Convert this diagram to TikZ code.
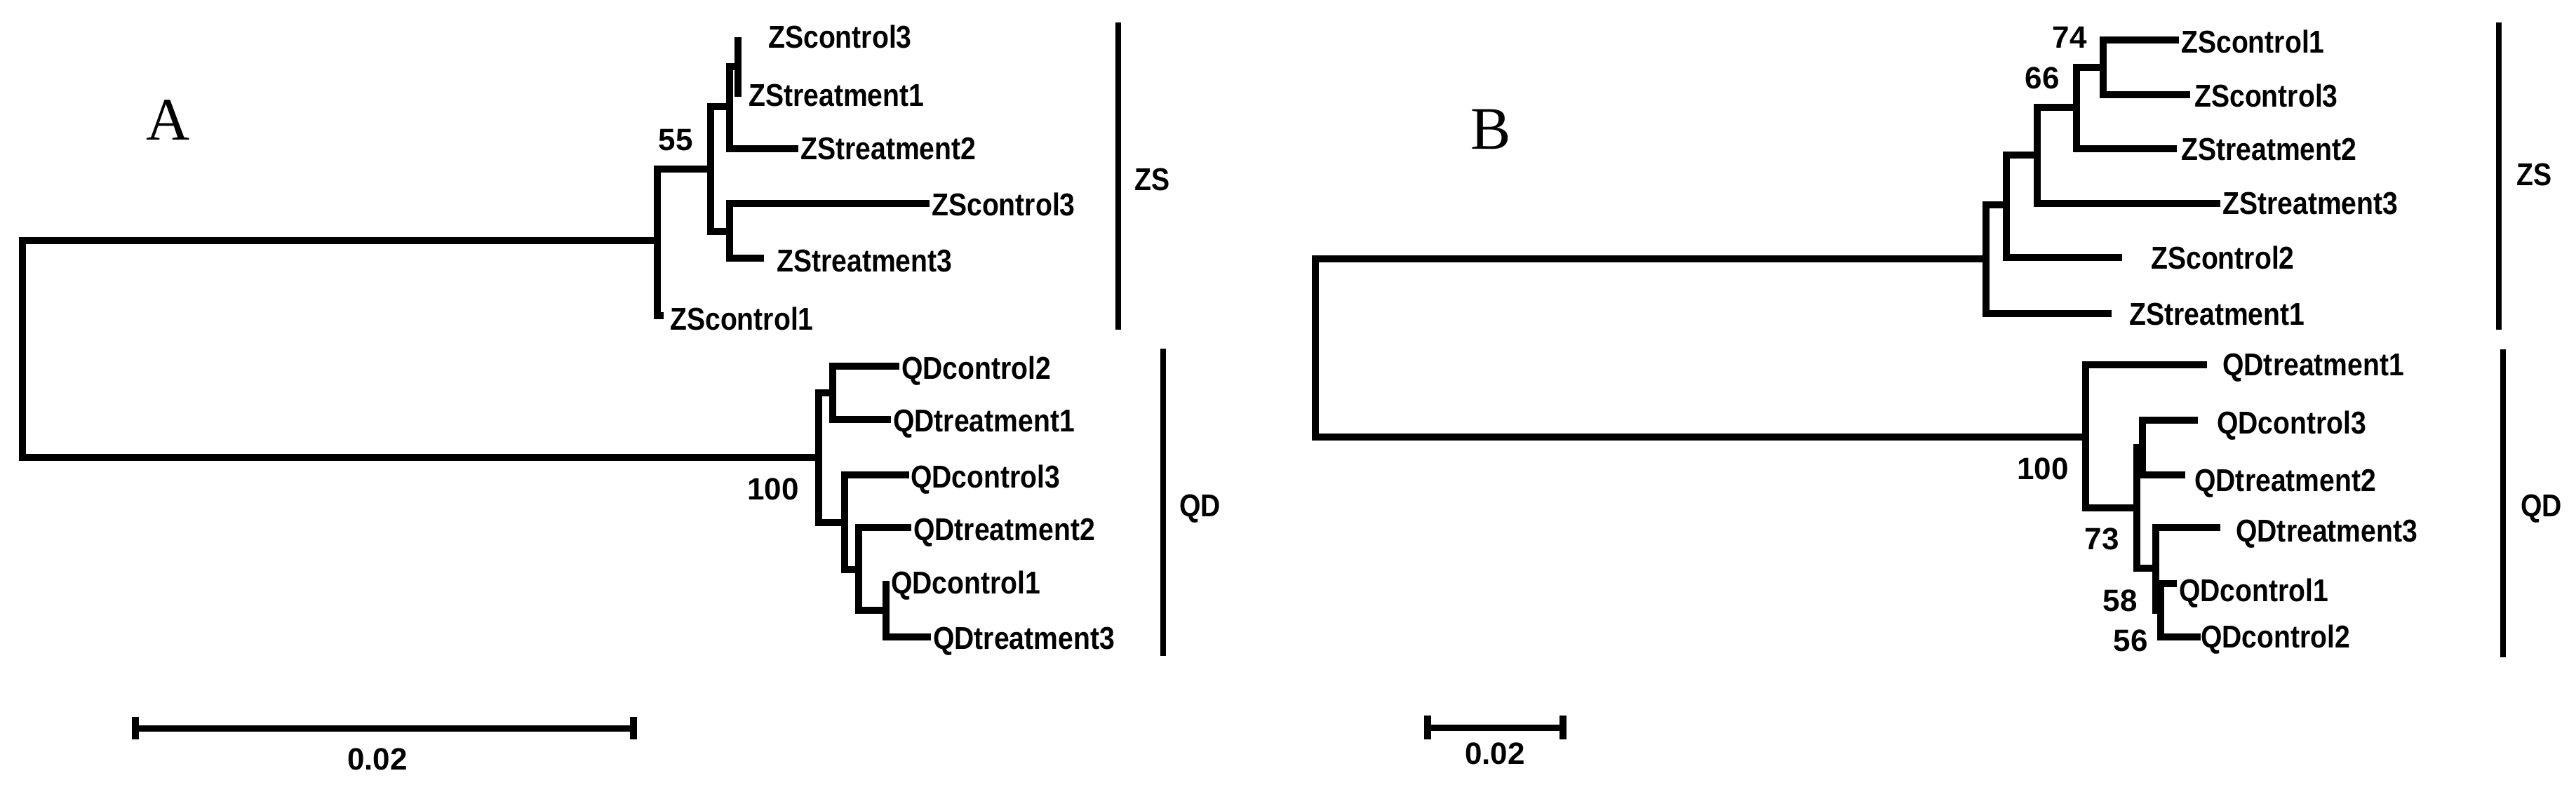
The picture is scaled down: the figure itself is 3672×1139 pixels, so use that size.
\documentclass[tikz,border=0pt]{standalone}
\usepackage{fontspec}
\setmainfont{Liberation Sans}
\newfontfamily\labfont{Liberation Sans}[FakeStretch=0.87]
\newfontfamily\panelfont{Liberation Serif}
\begin{document}
\begin{tikzpicture}[x=1pt,y=-1pt,
  br/.style={line width=10pt, line join=miter},
  grp/.style={line width=8pt},
  scl/.style={line width=9pt},
  tk/.style={line width=10pt},
  lab/.style={anchor=west, inner sep=0pt, font=\labfont\bfseries\fontsize{45}{45}\selectfont, text height=31pt, text depth=0pt},
  bs/.style={anchor=center, inner sep=0pt, font=\bfseries\fontsize{44}{44}\selectfont, text height=31pt, text depth=0pt},
  pan/.style={anchor=center, inner sep=0pt, font=\panelfont\fontsize{86}{86}\selectfont}]
\useasboundingbox (0,0) rectangle (3672,1139);
\fill[white] (0,0) rectangle (3672,1139);

% ================= Tree A =================
\node[pan] (panA) at (240,171) {A};
\coordinate (rA) at (32,497);
\coordinate (a55) at (937,343);
\coordinate (aNb) at (1013,241);
\coordinate (aNc) at (1040,152);
\coordinate (aNd) at (1052,95);
\coordinate (aNe) at (1040,330);
\coordinate (aQ) at (1167,652);
\coordinate (aNr) at (1187,560);
\coordinate (aNs) at (1204,745);
\coordinate (aNt) at (1224,812);
\coordinate (aNu) at (1263,870);
% tips
\coordinate (tAzc3a) at (1052,53);
\coordinate (tAzt1) at (1052,138);
\coordinate (tAzt2) at (1138,212);
\coordinate (tAzc3b) at (1325,290);
\coordinate (tAzt3) at (1089,368);
\coordinate (tAzc1) at (946,450);
\coordinate (tAqc2) at (1282,522);
\coordinate (tAqt1) at (1270,598);
\coordinate (tAqc3) at (1296,677);
\coordinate (tAqt2) at (1299,752);
\coordinate (tAqc1) at (1263,828);
\coordinate (tAqt3) at (1327,908);

\draw[br] (rA) |- (a55);
\draw[br] (rA) |- (aQ);
\draw[br] (a55) |- (aNb);
\draw[br] (a55) |- (tAzc1);
\draw[br] (aNb) |- (aNc);
\draw[br] (aNb) |- (aNe);
\draw[br] (aNc) |- (aNd);
\draw[br] (aNc) |- (tAzt2);
\draw[br] (aNd) |- (tAzc3a);
\draw[br] (aNd) |- (tAzt1);
\draw[br] (aNe) |- (tAzc3b);
\draw[br] (aNe) |- (tAzt3);
\draw[br] (aQ) |- (aNr);
\draw[br] (aQ) |- (aNs);
\draw[br] (aNr) |- (tAqc2);
\draw[br] (aNr) |- (tAqt1);
\draw[br] (aNs) |- (tAqc3);
\draw[br] (aNs) |- (aNt);
\draw[br] (aNt) |- (tAqt2);
\draw[br] (aNt) |- (aNu);
\draw[br] (aNu) |- (tAqc1);
\draw[br] (aNu) |- (tAqt3);

\node[lab] (lAzc3a) at (1095,53) {ZScontrol3};
\node[lab] (lAzt1) at (1067,136) {ZStreatment1};
\node[lab] (lAzt2) at (1141,212) {ZStreatment2};
\node[lab] (lAzc3b) at (1328,292) {ZScontrol3};
\node[lab] (lAzt3) at (1107,372) {ZStreatment3};
\node[lab] (lAzc1) at (955,455) {ZScontrol1};
\node[lab] (lAqc2) at (1285,525) {QDcontrol2};
\node[lab] (lAqt1) at (1273,600) {QDtreatment1};
\node[lab] (lAqc3) at (1298,680) {QDcontrol3};
\node[lab] (lAqt2) at (1302,755) {QDtreatment2};
\node[lab] (lAqc1) at (1270,831) {QDcontrol1};
\node[lab] (lAqt3) at (1330,910) {QDtreatment3};

\node[bs] (bA55) at (963,199) {55};
\node[bs] (bA100) at (1102,697) {100};

\coordinate (gAzs1) at (1594,32);
\coordinate (gAzs2) at (1594,470);
\draw[grp] (gAzs1) -- (gAzs2);
\node[lab] (lAzs) at (1617,256) {ZS};
\coordinate (gAqd1) at (1658,497);
\coordinate (gAqd2) at (1658,935);
\draw[grp] (gAqd1) -- (gAqd2);
\node[lab] (lAqd) at (1681,721) {QD};

\coordinate (sA1) at (193,1038);
\coordinate (sA2) at (903,1038);
\draw[scl] (sA1) -- (sA2);
\draw[tk] (sA1) ++(0,-16) -- ++(0,32);
\draw[tk] (sA2) ++(0,-16) -- ++(0,32);
\node[bs] (lsA) at (538,1082) {0.02};

% ================= Tree B =================
\node[pan] (panB) at (2125,184) {B};
\coordinate (rB) at (1875,495);
\coordinate (bN0) at (2831,369);
\coordinate (bN1) at (2860,292);
\coordinate (bN2) at (2904,221);
\coordinate (bN3) at (2960,153);
\coordinate (bN4) at (2998,96);
\coordinate (bM0) at (2973,623);
\coordinate (bM1) at (3046,724);
\coordinate (bM2) at (3054,638);
\coordinate (bM3) at (3073,810);
\coordinate (bM4) at (3080,870);
% tips
\coordinate (tBzc1) at (3106,57);
\coordinate (tBzc3) at (3122,135);
\coordinate (tBzt2) at (3103,212);
\coordinate (tBzt3) at (3165,290);
\coordinate (tBzc2) at (3025,367);
\coordinate (tBzt1) at (3010,447);
\coordinate (tBqt1) at (3146,520);
\coordinate (tBqc3) at (3133,599);
\coordinate (tBqt2) at (3115,677);
\coordinate (tBqt3) at (3165,752);
\coordinate (tBqc1) at (3103,832);
\coordinate (tBqc2) at (3137,908);

\draw[br] (rB) |- (bN0);
\draw[br] (rB) |- (bM0);
\draw[br] (bN0) |- (bN1);
\draw[br] (bN0) |- (tBzt1);
\draw[br] (bN1) |- (bN2);
\draw[br] (bN1) |- (tBzc2);
\draw[br] (bN2) |- (bN3);
\draw[br] (bN2) |- (tBzt3);
\draw[br] (bN3) |- (bN4);
\draw[br] (bN3) |- (tBzt2);
\draw[br] (bN4) |- (tBzc1);
\draw[br] (bN4) |- (tBzc3);
\draw[br] (bM0) |- (tBqt1);
\draw[br] (bM0) |- (bM1);
\draw[br] (bM1) |- (bM2);
\draw[br] (bM1) |- (bM3);
\draw[br] (bM2) |- (tBqc3);
\draw[br] (bM2) |- (tBqt2);
\draw[br] (bM3) |- (tBqt3);
\draw[br] (bM3) |- (bM4);
\draw[br] (bM4) |- (tBqc1);
\draw[br] (bM4) |- (tBqc2);

\node[lab] (lBzc1) at (3109,60) {ZScontrol1};
\node[lab] (lBzc3) at (3128,137) {ZScontrol3};
\node[lab] (lBzt2) at (3109,213) {ZStreatment2};
\node[lab] (lBzt3) at (3168,290) {ZStreatment3};
\node[lab] (lBzc2) at (3066,368) {ZScontrol2};
\node[lab] (lBzt1) at (3035,448) {ZStreatment1};
\node[lab] (lBqt1) at (3168,520) {QDtreatment1};
\node[lab] (lBqc3) at (3160,603) {QDcontrol3};
\node[lab] (lBqt2) at (3128,685) {QDtreatment2};
\node[lab] (lBqt3) at (3187,757) {QDtreatment3};
\node[lab] (lBqc1) at (3106,842) {QDcontrol1};
\node[lab] (lBqc2) at (3137,908) {QDcontrol2};

\node[bs] (bB74) at (2950,53) {74};
\node[bs] (bB66) at (2911,111) {66};
\node[bs] (bB100) at (2912,668) {100};
\node[bs] (bB73) at (2996,768) {73};
\node[bs] (bB58) at (3022,856) {58};
\node[bs] (bB56) at (3037,913) {56};

\coordinate (gBzs1) at (3562,32);
\coordinate (gBzs2) at (3562,470);
\draw[grp] (gBzs1) -- (gBzs2);
\node[lab] (lBzs) at (3587,249) {ZS};
\coordinate (gBqd1) at (3568,498);
\coordinate (gBqd2) at (3568,937);
\draw[grp] (gBqd1) -- (gBqd2);
\node[lab] (lBqd) at (3593,721) {QD};

\coordinate (sB1) at (2035,1037);
\coordinate (sB2) at (2228,1037);
\draw[scl] (sB1) -- (sB2);
\draw[tk] (sB1) ++(0,-17) -- ++(0,34);
\draw[tk] (sB2) ++(0,-17) -- ++(0,34);
\node[bs] (lsB) at (2131,1074) {0.02};
\end{tikzpicture}
\end{document}
